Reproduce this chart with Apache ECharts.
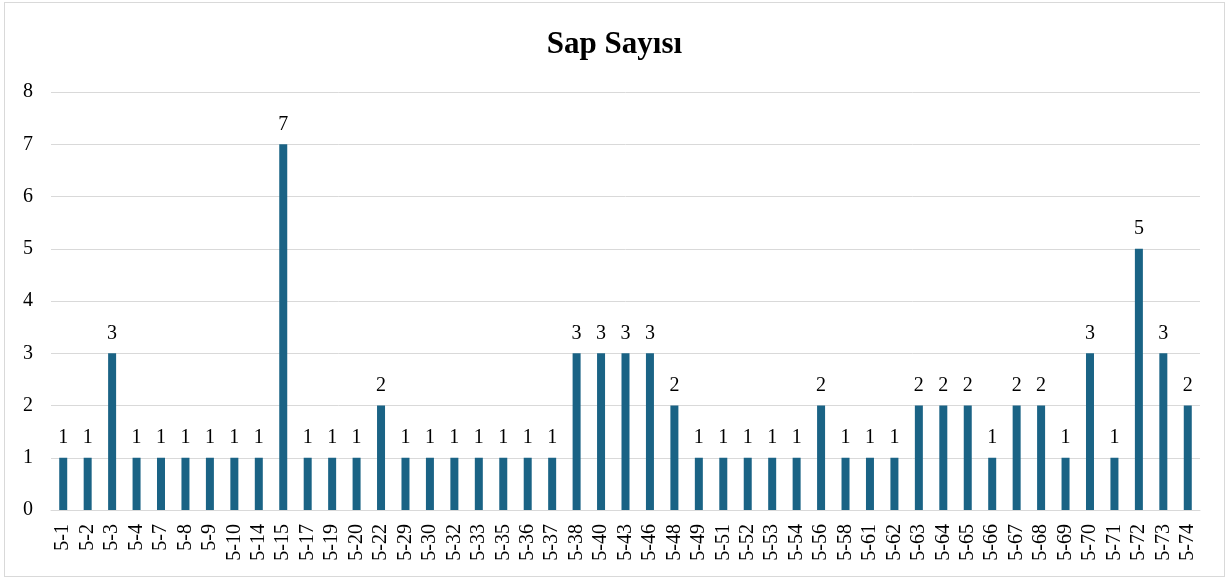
<!DOCTYPE html>
<html>
<head>
<meta charset="utf-8">
<script src="https://cdn.jsdelivr.net/npm/echarts@6/dist/echarts.min.js"></script>
<style>
  html, body { margin: 0; padding: 0; background: #fff; }
  #frame { position: absolute; left: 4px; top: 2px; width: 1221px; height: 575px; border: 1px solid #d9d9d9; box-sizing: border-box; }
  #chart { width: 1229px; height: 581px; }
</style>
</head>
<body>
<div id="frame"></div>
<div id="chart"></div>
<script>
const categories = ['5-1','5-2','5-3','5-4','5-7','5-8','5-9','5-10','5-14','5-15','5-17','5-19','5-20','5-22','5-29','5-30','5-32','5-33','5-35','5-36','5-37','5-38','5-40','5-43','5-46','5-48','5-49','5-51','5-52','5-53','5-54','5-56','5-58','5-61','5-62','5-63','5-64','5-65','5-66','5-67','5-68','5-69','5-70','5-71','5-72','5-73','5-74'];
const sapSayisi = [1,1,3,1,1,1,1,1,1,7,1,1,1,2,1,1,1,1,1,1,1,3,3,3,3,2,1,1,1,1,1,2,1,1,1,2,2,2,1,2,2,1,3,1,5,3,2];
const yTicks = [0,1,2,3,4,5,6,7,8];

const font = '"Liberation Serif", "Times New Roman", serif';
const chart = echarts.init(document.getElementById('chart'));
chart.setOption({
  animation: false,
  title: {
    text: 'Sap Sayısı',
    left: 'center',
    top: 24,
    textStyle: { fontFamily: font, fontSize: 31, fontWeight: 'bold', color: '#000' }
  },
  grid: { left: 51, right: 29, top: 92, bottom: 71 },
  xAxis: {
    type: 'category',
    data: categories,
    axisLine: { lineStyle: { color: '#d9d9d9', width: 1 } },
    axisTick: { show: false },
    axisLabel: { rotate: 90, interval: 0, fontFamily: font, fontSize: 20, color: '#000', margin: 14 }
  },
  yAxis: {
    type: 'value',
    min: yTicks[0],
    max: yTicks[yTicks.length - 1],
    interval: 1,
    axisLine: { show: false },
    axisTick: { show: false },
    splitLine: { lineStyle: { color: '#d9d9d9', width: 1 } },
    axisLabel: { fontFamily: font, fontSize: 20, color: '#000', margin: 18 }
  },
  series: [{
    type: 'bar',
    data: sapSayisi,
    barWidth: 8,
    itemStyle: { color: '#1a6385' },
    label: { show: true, position: 'top', distance: 10, fontFamily: font, fontSize: 20, color: '#000' }
  }]
});
</script>
</body>
</html>
